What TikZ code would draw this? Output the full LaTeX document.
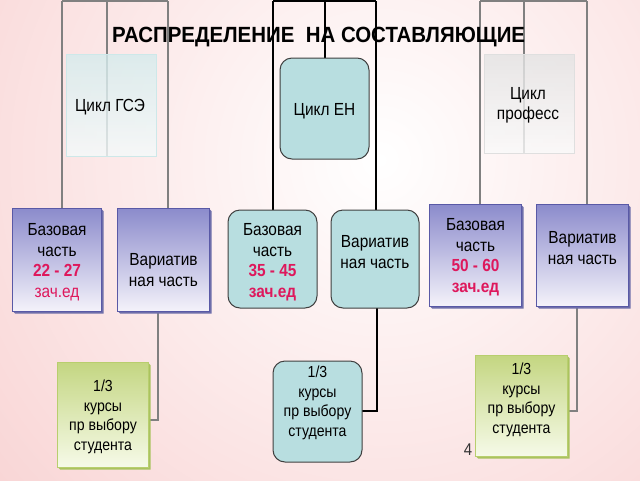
\documentclass[tikz,border=0pt]{standalone}
\usepackage{fontspec}
\setmainfont[FakeStretch=0.88]{Liberation Sans}
\newfontfamily\titlefont[FakeStretch=0.93]{Liberation Sans}
\definecolor{bgpink}{RGB}{246,194,194}
\definecolor{numred}{RGB}{222,24,92}
\definecolor{tealfill}{RGB}{184,222,224}
\definecolor{lgray}{RGB}{128,128,128}
\tikzset{
  x=1pt, y=-1pt,
  conn/.style={draw=lgray, line width=1.3pt},
  connb/.style={draw=black, line width=1.8pt},
  txt/.style={align=center, inner sep=0pt, font=\fontsize{17.5}{20.5}\selectfont},
  gtxt/.style={align=center, inner sep=0pt, font=\fontsize{16}{19.5}\selectfont},
  glassteal/.style={draw=tealfill!70!white, line width=0.8pt, top color=tealfill!60!white, bottom color=tealfill!15!white, fill opacity=0.8},
  glassgray/.style={draw=gray!25, line width=0.8pt, top color=gray!22, bottom color=gray!4, fill opacity=0.8},
  roundbox/.style={draw=black!75, line width=1pt, fill=tealfill, rounded corners=12pt},
  purplebox/.style={draw=blue!30!gray, line width=1pt, top color={rgb,255:red,140;green,140;blue,204}, bottom color={rgb,255:red,244;green,242;blue,250}},
  greenbox/.style={draw={rgb,255:red,184;green,206;blue,110}, line width=1pt, top color={rgb,255:red,196;green,214;blue,130}, bottom color={rgb,255:red,246;green,250;blue,232}},
  pshadow/.style={fill={rgb,255:red,110;green,110;blue,170}},
  gshadow/.style={fill={rgb,255:red,170;green,195;blue,95}},
}
\begin{document}
\begin{tikzpicture}
\useasboundingbox (0,0) rectangle (640,480);
% background
\begin{scope}
\clip (0,0) rectangle (640,480);
\shade[inner color=white, outer color=bgpink] (380-740,160-740) rectangle (380+740,160+740);
\end{scope}

% top coordinates
\coordinate (tl1) at (62,1);  \coordinate (tl2) at (107,1); \coordinate (tl3) at (168,1);
\coordinate (tc1) at (273,1); \coordinate (tc2) at (325,1); \coordinate (tc3) at (376,1);
\coordinate (tr1) at (480,1); \coordinate (tr2) at (524,1); \coordinate (tr3) at (587,1);

% box geometry (shapes as nodes)
\path[shape=rectangle, inner sep=0pt]
  node (b1) [minimum width=88pt, minimum height=102pt] at (57,260) {}
  node (v1) [minimum width=91pt, minimum height=102pt] at (163.5,260) {}
  node (b3) [minimum width=91pt, minimum height=101pt] at (475.5,255.5) {}
  node (v3) [minimum width=91pt, minimum height=101pt] at (582.5,255.5) {}
  node (g1) [minimum width=90pt, minimum height=104pt] at (103,415) {}
  node (g3) [minimum width=91pt, minimum height=100pt] at (521.5,406) {};

% connectors (left, gray)
\draw[conn] (tl1) -- (tl3);
\draw[conn] (tl1) -- (tl1 |- b1.north);
\draw[conn] (tl3) -- (tl3 |- v1.north);
\draw[conn] (tl2) -- (107,156);
% right, gray
\draw[conn] (tr1) -- (tr3);
\draw[conn] (tr1) -- (tr1 |- b3.north);
\draw[conn] (tr3) -- (tr3 |- v3.north);
\draw[conn] (tr2) -- (524,153);
% center, black
\draw[connb] (tc1) -- (tc3);
\draw[connb] (tc1) -- (273,210);
\draw[connb] (tc3) -- (376,210);
\draw[connb] (tc2) -- (325,58);

% bottom connectors
\draw[conn] (158,311) |- (g1.east |- 0,420);
\draw[connb] (377,308) |- (362,411);
\draw[conn] (577,306) |- (g3.east |- 0,411);

% top row
\node[glassteal, minimum width=90pt, minimum height=102pt, inner sep=0pt] (gse) at (111,105) {};
\node[roundbox, minimum width=89pt, minimum height=101pt, inner sep=0pt] (en) at (324.5,108.5) {};
\node[glassgray, minimum width=90pt, minimum height=99pt, inner sep=0pt] (prof) at (529,103.5) {};
\node[txt] (tgse) at (110,107) {Цикл ГСЭ};
\node[txt] (ten) at (324.5,111) {Цикл ЕН};
\node[txt] (tprof) at (528,105.5) {Цикл\\професс};

% second row: purple boxes with bevel
\foreach \n in {b1,v1,b3,v3}{
  \fill[pshadow] (\n.north east) -- ([xshift=2.5pt,yshift=-2.5pt]\n.north east) -- ([xshift=2.5pt,yshift=-2.5pt]\n.south east) -- ([xshift=2.5pt,yshift=-2.5pt]\n.south west) -- (\n.south west) -- cycle;
  \path[purplebox] (\n.north west) rectangle (\n.south east);
}
\node[roundbox, minimum width=89pt, minimum height=98pt, inner sep=0pt] (b2) at (272.5,259) {};
\node[roundbox, minimum width=88pt, minimum height=98pt, inner sep=0pt] (v2) at (375,259) {};

\node[txt] (tb1) at (57,262) {Базовая\\часть\\\textcolor{numred}{\textbf{22 - 27}}\\\textcolor{numred}{зач.ед}};
\node[txt] (tv1) at (163.5,270) {Вариатив\\ная часть};
\node[txt] (tb2) at (272.5,262) {Базовая\\часть\\\textcolor{numred}{\textbf{35 - 45}}\\\textcolor{numred}{\textbf{зач.ед}}};
\node[txt] (tv2) at (375,252) {Вариатив\\ная часть};
\node[txt] (tb3) at (475.5,257) {Базовая\\часть\\\textcolor{numred}{\textbf{50 - 60}}\\\textcolor{numred}{\textbf{зач.ед}}};
\node[txt] (tv3) at (582.5,248) {Вариатив\\ная часть};

% third row
\foreach \n in {g1,g3}{
  \fill[gshadow] (\n.north east) -- ([xshift=2.5pt,yshift=-2.5pt]\n.north east) -- ([xshift=2.5pt,yshift=-2.5pt]\n.south east) -- ([xshift=2.5pt,yshift=-2.5pt]\n.south west) -- (\n.south west) -- cycle;
  \path[greenbox] (\n.north west) rectangle (\n.south east);
}
\node[roundbox, minimum width=89pt, minimum height=101pt, inner sep=0pt] (g2) at (317.5,411.5) {};

\node[gtxt] (tg1) at (103,417) {1/3\\курсы\\пр выбору\\студента};
\node[gtxt] (tg2) at (317.5,403) {1/3\\курсы\\пр выбору\\студента};
\node[gtxt] (tg3) at (521.5,400) {1/3\\курсы\\пр выбору\\студента};

% title and page number
\node[inner sep=0pt, font=\titlefont\bfseries\fontsize{22}{24}\selectfont, anchor=west] (title) at (112,37) {РАСПРЕДЕЛЕНИЕ\ \ НА СОСТАВЛЯЮЩИЕ};
\node[inner sep=0pt, font=\fontsize{17}{18}\selectfont, text=black!80] (pnum) at (468,450) {4};
\end{tikzpicture}
\end{document}
